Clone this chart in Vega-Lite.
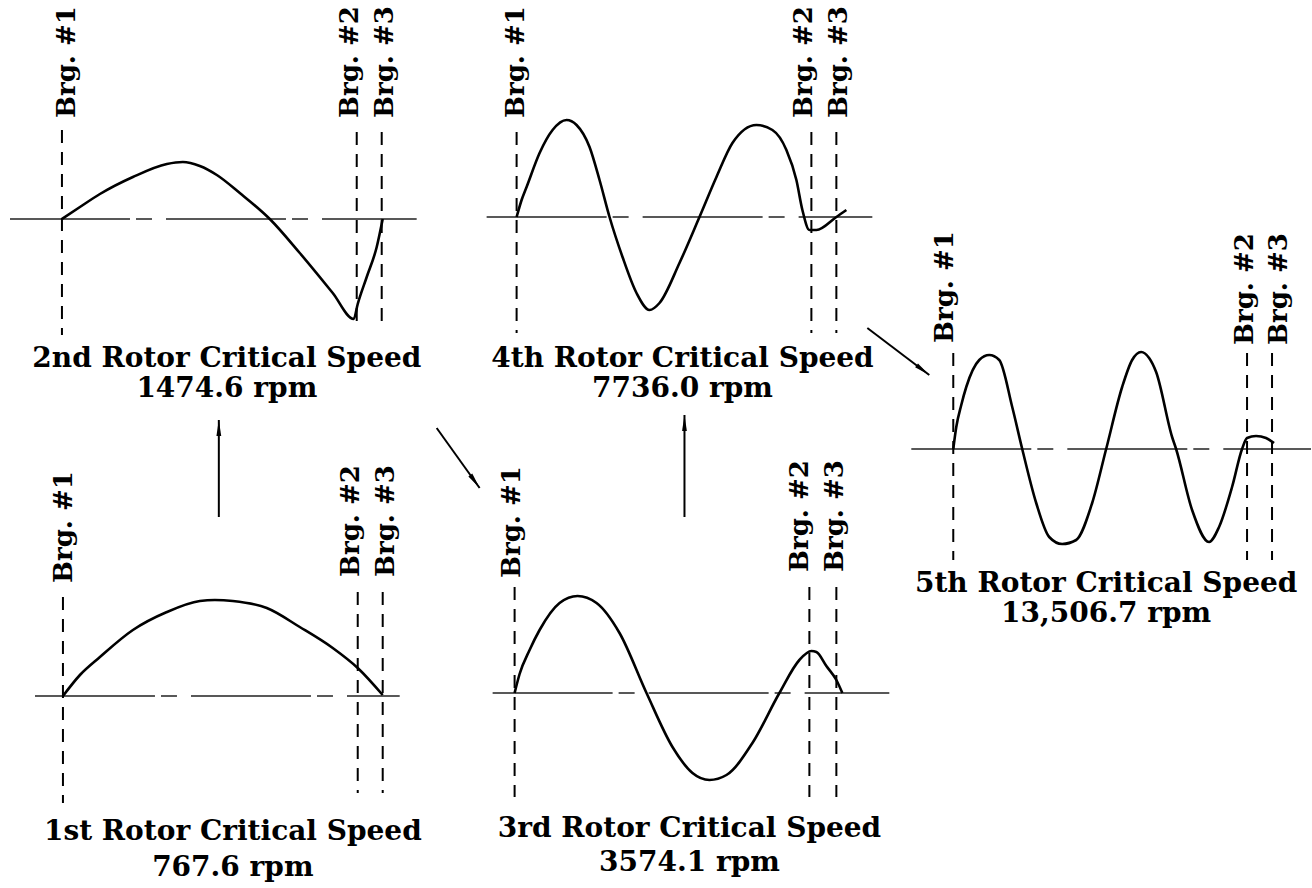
{
  "$schema": "https://vega.github.io/schema/vega-lite/v6.json",
  "width": 1312,
  "height": 888,
  "autosize": {"type": "fit", "contains": "padding"},
  "padding": 0,
  "background": "white",
  "config": {"view": {"stroke": null}, "axis": {"disable": true}},
  "datasets": {
    "curves": [
      {"panel": "1st", "x": 63, "y": 696}, {"panel": "1st", "x": 80, "y": 675}, {"panel": "1st", "x": 100, "y": 657}, {"panel": "1st", "x": 133, "y": 630}, {"panel": "1st", "x": 167, "y": 612}, {"panel": "1st", "x": 200, "y": 601}, {"panel": "1st", "x": 215, "y": 600}, {"panel": "1st", "x": 233, "y": 601}, {"panel": "1st", "x": 267, "y": 608}, {"panel": "1st", "x": 300, "y": 627}, {"panel": "1st", "x": 333, "y": 648}, {"panel": "1st", "x": 358, "y": 668}, {"panel": "1st", "x": 383, "y": 695},
      {"panel": "2nd", "x": 62, "y": 219}, {"panel": "2nd", "x": 80, "y": 207}, {"panel": "2nd", "x": 100, "y": 194}, {"panel": "2nd", "x": 133, "y": 177}, {"panel": "2nd", "x": 167, "y": 164}, {"panel": "2nd", "x": 183, "y": 162}, {"panel": "2nd", "x": 200, "y": 166}, {"panel": "2nd", "x": 217, "y": 175}, {"panel": "2nd", "x": 240, "y": 193}, {"panel": "2nd", "x": 270, "y": 219}, {"panel": "2nd", "x": 300, "y": 253}, {"panel": "2nd", "x": 333, "y": 293}, {"panel": "2nd", "x": 354, "y": 319}, {"panel": "2nd", "x": 358, "y": 304}, {"panel": "2nd", "x": 367, "y": 277}, {"panel": "2nd", "x": 377, "y": 247}, {"panel": "2nd", "x": 383, "y": 219},
      {"panel": "3rd", "x": 515, "y": 693}, {"panel": "3rd", "x": 520, "y": 674}, {"panel": "3rd", "x": 530, "y": 650}, {"panel": "3rd", "x": 540, "y": 630}, {"panel": "3rd", "x": 560, "y": 603}, {"panel": "3rd", "x": 578, "y": 596}, {"panel": "3rd", "x": 597, "y": 603}, {"panel": "3rd", "x": 620, "y": 633}, {"panel": "3rd", "x": 647, "y": 693}, {"panel": "3rd", "x": 673, "y": 747}, {"panel": "3rd", "x": 693, "y": 773}, {"panel": "3rd", "x": 710, "y": 780}, {"panel": "3rd", "x": 727, "y": 775}, {"panel": "3rd", "x": 753, "y": 743}, {"panel": "3rd", "x": 780, "y": 693}, {"panel": "3rd", "x": 800, "y": 660}, {"panel": "3rd", "x": 812, "y": 651}, {"panel": "3rd", "x": 817, "y": 652}, {"panel": "3rd", "x": 827, "y": 666}, {"panel": "3rd", "x": 837, "y": 680}, {"panel": "3rd", "x": 843, "y": 693},
      {"panel": "4th", "x": 517, "y": 217}, {"panel": "4th", "x": 522, "y": 200}, {"panel": "4th", "x": 527, "y": 187}, {"panel": "4th", "x": 540, "y": 153}, {"panel": "4th", "x": 553, "y": 130}, {"panel": "4th", "x": 567, "y": 120}, {"panel": "4th", "x": 577, "y": 125}, {"panel": "4th", "x": 590, "y": 147}, {"panel": "4th", "x": 600, "y": 180}, {"panel": "4th", "x": 610, "y": 217}, {"panel": "4th", "x": 623, "y": 257}, {"panel": "4th", "x": 637, "y": 293}, {"panel": "4th", "x": 650, "y": 310}, {"panel": "4th", "x": 660, "y": 303}, {"panel": "4th", "x": 680, "y": 263}, {"panel": "4th", "x": 700, "y": 217}, {"panel": "4th", "x": 717, "y": 177}, {"panel": "4th", "x": 733, "y": 143}, {"panel": "4th", "x": 757, "y": 125}, {"panel": "4th", "x": 773, "y": 130}, {"panel": "4th", "x": 787, "y": 150}, {"panel": "4th", "x": 797, "y": 180}, {"panel": "4th", "x": 803, "y": 210}, {"panel": "4th", "x": 810, "y": 230}, {"panel": "4th", "x": 817, "y": 230}, {"panel": "4th", "x": 837, "y": 217}, {"panel": "4th", "x": 847, "y": 210},
      {"panel": "5th", "x": 954, "y": 449}, {"panel": "5th", "x": 957, "y": 427}, {"panel": "5th", "x": 962, "y": 405}, {"panel": "5th", "x": 967, "y": 387}, {"panel": "5th", "x": 980, "y": 360}, {"panel": "5th", "x": 990, "y": 355}, {"panel": "5th", "x": 1000, "y": 360}, {"panel": "5th", "x": 1013, "y": 407}, {"panel": "5th", "x": 1023, "y": 449}, {"panel": "5th", "x": 1037, "y": 503}, {"panel": "5th", "x": 1050, "y": 537}, {"panel": "5th", "x": 1063, "y": 544}, {"panel": "5th", "x": 1077, "y": 540}, {"panel": "5th", "x": 1093, "y": 503}, {"panel": "5th", "x": 1107, "y": 449}, {"panel": "5th", "x": 1123, "y": 387}, {"panel": "5th", "x": 1133, "y": 360}, {"panel": "5th", "x": 1142, "y": 352}, {"panel": "5th", "x": 1150, "y": 358}, {"panel": "5th", "x": 1157, "y": 372}, {"panel": "5th", "x": 1173, "y": 437}, {"panel": "5th", "x": 1177, "y": 449}, {"panel": "5th", "x": 1193, "y": 510}, {"panel": "5th", "x": 1210, "y": 542}, {"panel": "5th", "x": 1220, "y": 527}, {"panel": "5th", "x": 1233, "y": 487}, {"panel": "5th", "x": 1243, "y": 449}, {"panel": "5th", "x": 1248, "y": 438}, {"panel": "5th", "x": 1257, "y": 436}, {"panel": "5th", "x": 1267, "y": 438}, {"panel": "5th", "x": 1275, "y": 443}
    ],
    "bearings": [
      {"panel": "1st", "bearing": "#1", "x": 63, "top": 597, "bottom": 803},
      {"panel": "1st", "bearing": "#2", "x": 358, "top": 592, "bottom": 793},
      {"panel": "1st", "bearing": "#3", "x": 383, "top": 592, "bottom": 793},
      {"panel": "2nd", "bearing": "#1", "x": 62, "top": 130, "bottom": 335},
      {"panel": "2nd", "bearing": "#2", "x": 357, "top": 132, "bottom": 330},
      {"panel": "2nd", "bearing": "#3", "x": 382, "top": 132, "bottom": 330},
      {"panel": "3rd", "bearing": "#1", "x": 515, "top": 587, "bottom": 797},
      {"panel": "3rd", "bearing": "#2", "x": 810, "top": 587, "bottom": 797},
      {"panel": "3rd", "bearing": "#3", "x": 837, "top": 587, "bottom": 797},
      {"panel": "4th", "bearing": "#1", "x": 517, "top": 132, "bottom": 333},
      {"panel": "4th", "bearing": "#2", "x": 812, "top": 132, "bottom": 333},
      {"panel": "4th", "bearing": "#3", "x": 837, "top": 132, "bottom": 333},
      {"panel": "5th", "bearing": "#1", "x": 954, "top": 353, "bottom": 560},
      {"panel": "5th", "bearing": "#2", "x": 1248, "top": 353, "bottom": 560},
      {"panel": "5th", "bearing": "#3", "x": 1273, "top": 353, "bottom": 560}
    ],
    "centerlines": [
      {"panel": "1st", "left": 35, "right": 400, "y": 696},
      {"panel": "2nd", "left": 10, "right": 417, "y": 219},
      {"panel": "3rd", "left": 493, "right": 890, "y": 693},
      {"panel": "4th", "left": 487, "right": 873, "y": 217},
      {"panel": "5th", "left": 912, "right": 1312, "y": 449}
    ],
    "labels": [
      {"text": "Brg. #1", "x": 72, "y": 583}, {"text": "Brg. #2", "x": 359, "y": 577}, {"text": "Brg. #3", "x": 394, "y": 577},
      {"text": "Brg. #1", "x": 75, "y": 118}, {"text": "Brg. #2", "x": 358, "y": 118}, {"text": "Brg. #3", "x": 393, "y": 118},
      {"text": "Brg. #1", "x": 520, "y": 578}, {"text": "Brg. #2", "x": 809, "y": 572}, {"text": "Brg. #3", "x": 844, "y": 572},
      {"text": "Brg. #1", "x": 524, "y": 118}, {"text": "Brg. #2", "x": 813, "y": 118}, {"text": "Brg. #3", "x": 848, "y": 118},
      {"text": "Brg. #1", "x": 954, "y": 343}, {"text": "Brg. #2", "x": 1254, "y": 345}, {"text": "Brg. #3", "x": 1288, "y": 345}
    ],
    "titles": [
      {"text": "1st Rotor Critical Speed", "x": 233, "y": 840}, {"text": "767.6 rpm", "x": 233, "y": 876},
      {"text": "2nd Rotor Critical Speed", "x": 227, "y": 367}, {"text": "1474.6 rpm", "x": 227, "y": 397},
      {"text": "3rd Rotor Critical Speed", "x": 690, "y": 837}, {"text": "3574.1 rpm", "x": 690, "y": 871},
      {"text": "4th Rotor Critical Speed", "x": 683, "y": 367}, {"text": "7736.0 rpm", "x": 683, "y": 397},
      {"text": "5th Rotor Critical Speed", "x": 1107, "y": 592}, {"text": "13,506.7 rpm", "x": 1107, "y": 622}
    ],
    "arrows": [
      {"id": "1to2", "x": 219, "y": 517, "tx": 219, "ty": 420},
      {"id": "2to3", "x": 437, "y": 428, "tx": 480, "ty": 488},
      {"id": "3to4", "x": 685, "y": 517, "tx": 685, "ty": 415},
      {"id": "4to5", "x": 868, "y": 328, "tx": 930, "ty": 375}
    ]
  },
  "layer": [
    {
      "data": {"name": "centerlines"},
      "mark": {"type": "rule", "color": "#222222", "strokeWidth": 1.3, "strokeDash": [120, 6, 16, 14]},
      "encoding": {
        "x": {"field": "left", "type": "quantitative", "scale": {"domain": [0, 1312], "nice": false, "zero": false}},
        "x2": {"field": "right"},
        "y": {"field": "y", "type": "quantitative", "scale": {"domain": [0, 888], "reverse": true, "nice": false, "zero": false}}
      }
    },
    {
      "data": {"name": "bearings"},
      "mark": {"type": "rule", "color": "black", "strokeWidth": 2, "strokeDash": [13, 9]},
      "encoding": {
        "x": {"field": "x", "type": "quantitative", "scale": {"domain": [0, 1312], "nice": false, "zero": false}},
        "y": {"field": "top", "type": "quantitative", "scale": {"domain": [0, 888], "reverse": true, "nice": false, "zero": false}},
        "y2": {"field": "bottom"}
      }
    },
    {
      "data": {"name": "curves"},
      "mark": {"type": "line", "color": "black", "strokeWidth": 2.6, "interpolate": "monotone"},
      "encoding": {
        "x": {"field": "x", "type": "quantitative", "scale": {"domain": [0, 1312], "nice": false, "zero": false}},
        "y": {"field": "y", "type": "quantitative", "scale": {"domain": [0, 888], "reverse": true, "nice": false, "zero": false}},
        "detail": {"field": "panel", "type": "nominal"}
      }
    },
    {
      "data": {"name": "arrows"},
      "mark": {"type": "rule", "color": "black", "strokeWidth": 2},
      "encoding": {
        "x": {"field": "x", "type": "quantitative", "scale": {"domain": [0, 1312], "nice": false, "zero": false}},
        "y": {"field": "y", "type": "quantitative", "scale": {"domain": [0, 888], "reverse": true, "nice": false, "zero": false}},
        "x2": {"field": "tx"},
        "y2": {"field": "ty"}
      }
    },
    {
      "data": {"name": "arrows"},
      "transform": [{"filter": "datum.id === '1to2' || datum.id === '3to4'"}],
      "mark": {"type": "point", "shape": "M0,0L0.3,2L-0.3,2Z", "filled": true, "color": "black", "opacity": 1, "size": 256, "angle": 0},
      "encoding": {
        "x": {"field": "tx", "type": "quantitative", "scale": {"domain": [0, 1312], "nice": false, "zero": false}},
        "y": {"field": "ty", "type": "quantitative", "scale": {"domain": [0, 888], "reverse": true, "nice": false, "zero": false}}
      }
    },
    {
      "data": {"name": "arrows"},
      "transform": [{"filter": "datum.id === '2to3'"}],
      "mark": {"type": "point", "shape": "M0,0L0.3,2L-0.3,2Z", "filled": true, "color": "black", "opacity": 1, "size": 256, "angle": 144.4},
      "encoding": {
        "x": {"field": "tx", "type": "quantitative", "scale": {"domain": [0, 1312], "nice": false, "zero": false}},
        "y": {"field": "ty", "type": "quantitative", "scale": {"domain": [0, 888], "reverse": true, "nice": false, "zero": false}}
      }
    },
    {
      "data": {"name": "arrows"},
      "transform": [{"filter": "datum.id === '4to5'"}],
      "mark": {"type": "point", "shape": "M0,0L0.3,2L-0.3,2Z", "filled": true, "color": "black", "opacity": 1, "size": 256, "angle": 127.2},
      "encoding": {
        "x": {"field": "tx", "type": "quantitative", "scale": {"domain": [0, 1312], "nice": false, "zero": false}},
        "y": {"field": "ty", "type": "quantitative", "scale": {"domain": [0, 888], "reverse": true, "nice": false, "zero": false}}
      }
    },
    {
      "data": {"name": "labels"},
      "mark": {"type": "text", "angle": 270, "align": "left", "baseline": "alphabetic", "font": "DejaVu Serif", "fontSize": 26, "fontWeight": "bold", "color": "black"},
      "encoding": {
        "x": {"field": "x", "type": "quantitative", "scale": {"domain": [0, 1312], "nice": false, "zero": false}},
        "y": {"field": "y", "type": "quantitative", "scale": {"domain": [0, 888], "reverse": true, "nice": false, "zero": false}},
        "text": {"field": "text"}
      }
    },
    {
      "data": {"name": "titles"},
      "mark": {"type": "text", "align": "center", "baseline": "alphabetic", "font": "DejaVu Serif", "fontSize": 28, "fontWeight": "bold", "color": "black"},
      "encoding": {
        "x": {"field": "x", "type": "quantitative", "scale": {"domain": [0, 1312], "nice": false, "zero": false}},
        "y": {"field": "y", "type": "quantitative", "scale": {"domain": [0, 888], "reverse": true, "nice": false, "zero": false}},
        "text": {"field": "text"}
      }
    }
  ]
}
